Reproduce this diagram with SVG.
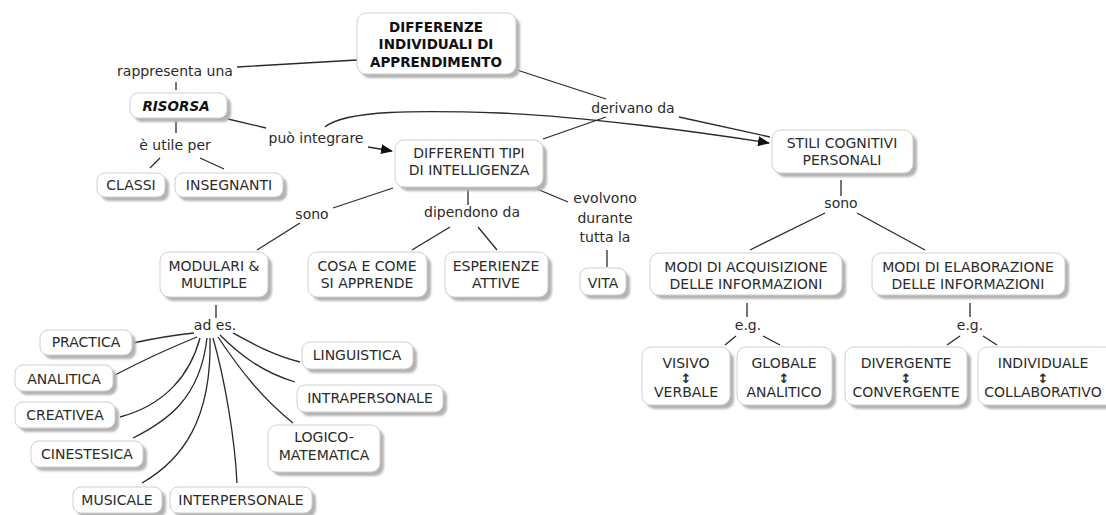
<svg xmlns="http://www.w3.org/2000/svg" width="1106" height="515" viewBox="0 0 1106 515">
  <style>
    .sh { fill: #b3b3b3; filter: url(#soft); }
    .bx { fill: #ffffff; stroke: #cfcfcf; stroke-width: 1; }
    .t { font-family: "DejaVu Sans", Verdana, sans-serif; font-size: 14px; fill: #2b2b2b; text-anchor: middle; }
    .tb { font-family: "DejaVu Sans", Verdana, sans-serif; font-size: 13.5px; font-weight: bold; fill: #111; text-anchor: middle; }
    .ar { font-family: "DejaVu Sans", sans-serif; font-size: 13px; font-weight: bold; fill: #2b2b2b; text-anchor: middle; }
    .lbl { font-family: "DejaVu Sans", Verdana, sans-serif; font-size: 14px; fill: #2b2b2b; text-anchor: middle; }
    .c { fill: none; stroke: #2a2a2a; stroke-width: 1.3; }
  </style>
  <defs>
    <filter id="soft" x="-10%" y="-10%" width="120%" height="130%">
      <feGaussianBlur stdDeviation="1.2"/>
    </filter>
    <marker id="arrow" viewBox="0 0 12 10" refX="11" refY="5" markerWidth="12" markerHeight="10" markerUnits="userSpaceOnUse" orient="auto">
      <path d="M0,0 L12,5 L0,10 z" fill="#111"/>
    </marker>
  </defs>

  <rect width="1106" height="515" fill="#ffffff"/>

  <!-- connectors -->
  <g id="connectors">
    <path class="c" d="M357,60 L237,67"/>
    <path class="c" d="M176,82 L176,90"/>
    <path class="c" d="M176,121 L176,133"/>
    <path class="c" d="M160,158 L150,168"/>
    <path class="c" d="M200,158 L224,169"/>
    <path class="c" d="M228,119 L266,128"/>
    <path class="c" d="M368,147 L392,151" marker-end="url(#arrow)"/>
    <path class="c" d="M325,127 C345,110 420,110 500,113 S700,132 769,143" marker-end="url(#arrow)"/>
    <path class="c" d="M517,70 L606,99"/>
    <path class="c" d="M606,117 L543,139"/>
    <path class="c" d="M679,117 L770,137"/>
    <path class="c" d="M393,188 L333,208"/>
    <path class="c" d="M300,223 L257,250"/>
    <path class="c" d="M468,190 L468,205"/>
    <path class="c" d="M450,227 L412,250"/>
    <path class="c" d="M478,227 L497,250"/>
    <path class="c" d="M537,189 L568,202"/>
    <path class="c" d="M607,250 L607,267"/>
    <path class="c" d="M841,180 L841,196"/>
    <path class="c" d="M825,213 L750,250"/>
    <path class="c" d="M857,213 L925,250"/>
    <path class="c" d="M747,303 L747,317"/>
    <path class="c" d="M736,336 L725,345"/>
    <path class="c" d="M763,336 L780,345"/>
    <path class="c" d="M970,303 L970,317"/>
    <path class="c" d="M960,336 L947,345"/>
    <path class="c" d="M983,336 L997,345"/>
    <path class="c" d="M216,305 L216,318"/>
    <!-- ad es. fan -->
    <path class="c" d="M194,333 Q165,336 133,343"/>
    <path class="c" d="M197,337 Q155,354 115,375"/>
    <path class="c" d="M200,338 C190,375 165,405 120,417"/>
    <path class="c" d="M207,338 C200,400 165,422 133,438"/>
    <path class="c" d="M210,338 C212,420 182,460 142,483"/>
    <path class="c" d="M213,338 C225,380 235,440 237,483"/>
    <path class="c" d="M218,337 C240,370 262,398 293,423"/>
    <path class="c" d="M220,335 C240,355 262,372 295,382"/>
    <path class="c" d="M233,333 C255,345 275,356 300,362"/>
  </g>

  <!-- linking phrases -->
  <g id="labels">
    <text class="lbl" x="175" y="76">rappresenta una</text>
    <text class="lbl" x="175" y="150">è utile per</text>
    <text class="lbl" x="316" y="143">può integrare</text>
    <text class="lbl" x="633" y="113">derivano da</text>
    <text class="lbl" x="312" y="219">sono</text>
    <text class="lbl" x="472" y="217">dipendono da</text>
    <text class="lbl" x="605" y="203">evolvono</text>
    <text class="lbl" x="605" y="223">durante</text>
    <text class="lbl" x="605" y="242">tutta la</text>
    <text class="lbl" x="841" y="208">sono</text>
    <text class="lbl" x="215" y="330">ad es.</text>
    <text class="lbl" x="748" y="330">e.g.</text>
    <text class="lbl" x="970" y="330">e.g.</text>
  </g>

  <!-- concepts -->
  <g id="differenze">
    <rect class="sh" x="361" y="17" width="159" height="61" rx="9"/>
    <rect class="bx" x="357" y="13" width="159" height="61" rx="9"/>
    <text class="tb" x="436" y="32">DIFFERENZE</text>
    <text class="tb" x="436" y="49">INDIVIDUALI DI</text>
    <text class="tb" x="436" y="67">APPRENDIMENTO</text>
  </g>
  <g id="risorsa">
    <rect class="sh" x="134" y="97" width="97" height="25" rx="8"/>
    <rect class="bx" x="130" y="93" width="97" height="25" rx="8"/>
    <text class="tb" x="176" y="111" font-style="italic">RISORSA</text>
  </g>
  <g id="classi">
    <rect class="sh" x="101" y="177" width="68" height="24" rx="8"/>
    <rect class="bx" x="97" y="173" width="68" height="24" rx="8"/>
    <text class="t" x="131" y="190">CLASSI</text>
  </g>
  <g id="insegnanti">
    <rect class="sh" x="179" y="177" width="108" height="24" rx="8"/>
    <rect class="bx" x="175" y="173" width="108" height="24" rx="8"/>
    <text class="t" x="229" y="190">INSEGNANTI</text>
  </g>
  <g id="differenti">
    <rect class="sh" x="399" y="144" width="148" height="47" rx="9"/>
    <rect class="bx" x="395" y="140" width="148" height="47" rx="9"/>
    <text class="t" x="469" y="158">DIFFERENTI TIPI</text>
    <text class="t" x="469" y="175">DI INTELLIGENZA</text>
  </g>
  <g id="stili">
    <rect class="sh" x="776" y="134" width="141" height="43" rx="9"/>
    <rect class="bx" x="772" y="130" width="141" height="43" rx="9"/>
    <text class="t" x="842" y="148">STILI COGNITIVI</text>
    <text class="t" x="842" y="165">PERSONALI</text>
  </g>
  <g id="modulari">
    <rect class="sh" x="164" y="256" width="108" height="45" rx="9"/>
    <rect class="bx" x="160" y="252" width="108" height="45" rx="9"/>
    <text class="t" x="214" y="271">MODULARI &amp;</text>
    <text class="t" x="214" y="288">MULTIPLE</text>
  </g>
  <g id="cosa">
    <rect class="sh" x="312" y="256" width="119" height="45" rx="9"/>
    <rect class="bx" x="308" y="252" width="119" height="45" rx="9"/>
    <text class="t" x="367" y="271">COSA E COME</text>
    <text class="t" x="367" y="288">SI APPRENDE</text>
  </g>
  <g id="esperienze">
    <rect class="sh" x="449" y="256" width="103" height="45" rx="9"/>
    <rect class="bx" x="445" y="252" width="103" height="45" rx="9"/>
    <text class="t" x="496" y="271">ESPERIENZE</text>
    <text class="t" x="496" y="288">ATTIVE</text>
  </g>
  <g id="vita">
    <rect class="sh" x="584" y="272" width="46" height="27" rx="8"/>
    <rect class="bx" x="580" y="268" width="46" height="27" rx="8"/>
    <text class="t" x="603" y="288">VITA</text>
  </g>
  <g id="acquisizione">
    <rect class="sh" x="654" y="257" width="192" height="42" rx="9"/>
    <rect class="bx" x="650" y="253" width="192" height="42" rx="9"/>
    <text class="t" x="746" y="272">MODI DI ACQUISIZIONE</text>
    <text class="t" x="746" y="289">DELLE INFORMAZIONI</text>
  </g>
  <g id="elaborazione">
    <rect class="sh" x="876" y="257" width="193" height="42" rx="9"/>
    <rect class="bx" x="872" y="253" width="193" height="42" rx="9"/>
    <text class="t" x="968" y="272">MODI DI ELABORAZIONE</text>
    <text class="t" x="968" y="289">DELLE INFORMAZIONI</text>
  </g>
  <g id="visivo">
    <rect class="sh" x="646" y="351" width="88" height="58" rx="9"/>
    <rect class="bx" x="642" y="347" width="88" height="58" rx="9"/>
    <text class="t" x="686" y="368">VISIVO</text>
    <text class="ar" x="686" y="383">↕</text>
    <text class="t" x="686" y="397">VERBALE</text>
  </g>
  <g id="globale">
    <rect class="sh" x="741" y="351" width="95" height="58" rx="9"/>
    <rect class="bx" x="737" y="347" width="95" height="58" rx="9"/>
    <text class="t" x="784" y="368">GLOBALE</text>
    <text class="ar" x="784" y="383">↕</text>
    <text class="t" x="784" y="397">ANALITICO</text>
  </g>
  <g id="divergente">
    <rect class="sh" x="849" y="351" width="122" height="58" rx="9"/>
    <rect class="bx" x="845" y="347" width="122" height="58" rx="9"/>
    <text class="t" x="906" y="368">DIVERGENTE</text>
    <text class="ar" x="906" y="383">↕</text>
    <text class="t" x="906" y="397">CONVERGENTE</text>
  </g>
  <g id="individuale">
    <rect class="sh" x="982" y="351" width="140" height="58" rx="9"/>
    <rect class="bx" x="978" y="347" width="140" height="58" rx="9"/>
    <text class="t" x="1043" y="368">INDIVIDUALE</text>
    <text class="ar" x="1043" y="383">↕</text>
    <text class="t" x="1043" y="397">COLLABORATIVO</text>
  </g>
  <g id="practica">
    <rect class="sh" x="44" y="334" width="92" height="25" rx="8"/>
    <rect class="bx" x="40" y="330" width="92" height="25" rx="8"/>
    <text class="t" x="86" y="347">PRACTICA</text>
  </g>
  <g id="analitica">
    <rect class="sh" x="19" y="369" width="98" height="26" rx="8"/>
    <rect class="bx" x="15" y="365" width="98" height="26" rx="8"/>
    <text class="t" x="64" y="384">ANALITICA</text>
  </g>
  <g id="creativea">
    <rect class="sh" x="19" y="406" width="100" height="26" rx="8"/>
    <rect class="bx" x="15" y="402" width="100" height="26" rx="8"/>
    <text class="t" x="65" y="420">CREATIVEA</text>
  </g>
  <g id="cinestesica">
    <rect class="sh" x="35" y="445" width="112" height="26" rx="8"/>
    <rect class="bx" x="31" y="441" width="112" height="26" rx="8"/>
    <text class="t" x="87" y="459">CINESTESICA</text>
  </g>
  <g id="musicale">
    <rect class="sh" x="77" y="491" width="89" height="26" rx="8"/>
    <rect class="bx" x="73" y="487" width="89" height="26" rx="8"/>
    <text class="t" x="117" y="505">MUSICALE</text>
  </g>
  <g id="interpersonale">
    <rect class="sh" x="174" y="491" width="142" height="26" rx="8"/>
    <rect class="bx" x="170" y="487" width="142" height="26" rx="8"/>
    <text class="t" x="241" y="505">INTERPERSONALE</text>
  </g>
  <g id="linguistica">
    <rect class="sh" x="306" y="346" width="111" height="27" rx="8"/>
    <rect class="bx" x="302" y="342" width="111" height="27" rx="8"/>
    <text class="t" x="357" y="360">LINGUISTICA</text>
  </g>
  <g id="intrapersonale">
    <rect class="sh" x="301" y="389" width="146" height="27" rx="8"/>
    <rect class="bx" x="297" y="385" width="146" height="27" rx="8"/>
    <text class="t" x="370" y="403">INTRAPERSONALE</text>
  </g>
  <g id="logico">
    <rect class="sh" x="272" y="429" width="112" height="47" rx="9"/>
    <rect class="bx" x="268" y="425" width="112" height="47" rx="9"/>
    <text class="t" x="324" y="442">LOGICO-</text>
    <text class="t" x="324" y="460">MATEMATICA</text>
  </g>
</svg>
